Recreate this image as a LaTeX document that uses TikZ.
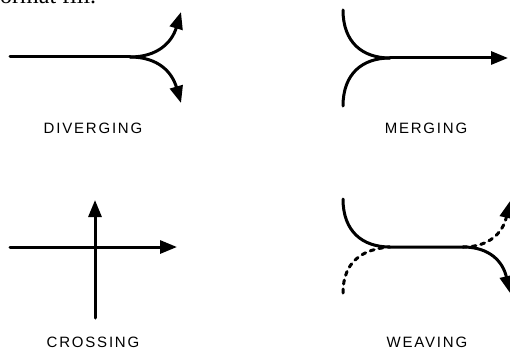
\documentclass[tikz,border=0pt]{standalone}
\usepackage{fontspec}
\setmainfont{Liberation Serif}
\newfontfamily\lblfont[LetterSpace=12]{Liberation Sans}
\usetikzlibrary{arrows.meta}

\begin{document}
\begin{tikzpicture}[x=1pt,y=-1pt,
  flow/.style={line width=3pt, line cap=round},
  tip/.style={-{Triangle[length=17pt,width=13pt]}},
  dots/.style={flow, dash pattern=on 4pt off 5pt},
  lbl/.style={font=\lblfont\fontsize{15}{18}\selectfont}]
\useasboundingbox (0,0) rectangle (510,350);
\clip (0,0) rectangle (510,350);
\node[anchor=base west, inner sep=0pt, font=\fontsize{24}{28}\selectfont] (cut) at (0,4) {ormat fill.};

% diverging
\coordinate (dj) at (130,57);
\draw[flow] (10,57) -- (dj);
\draw[flow,tip] (dj) .. controls (158,57) and (172,42) .. (181,12);
\draw[flow,tip] (dj) .. controls (158,57) and (172,72) .. (181,103);
\node[lbl] (div) at (93,128) {DIVERGING};

% merging
\coordinate (mj) at (390,58);
\draw[flow] (343,10) .. controls (343,42) and (362,58) .. (mj);
\draw[flow] (343,106) .. controls (343,74) and (362,58) .. (mj);
\draw[flow,tip] (mj) -- (508,58);
\node[lbl] (mrg) at (426,128) {MERGING};

% crossing
\draw[flow,tip] (10,247) -- (177,247);
\draw[flow,tip] (95,318) -- (95,200);
\node[lbl] (crs) at (93,342) {CROSSING};

% weaving
\coordinate (wa) at (390,247);
\coordinate (wb) at (463,247);
\draw[flow] (343,199) .. controls (343,231) and (362,247) .. (wa) -- (wb);
\draw[flow,tip] (wb) .. controls (490,247) and (503,262) .. (510,293);
\draw[dots] (343,293) .. controls (343,262) and (362,249) .. (wa);
\draw[dots,tip] (wb) .. controls (490,247) and (503,232) .. (510,201);
\node[lbl] (wv) at (427,342) {WEAVING};
\end{tikzpicture}
\end{document}
